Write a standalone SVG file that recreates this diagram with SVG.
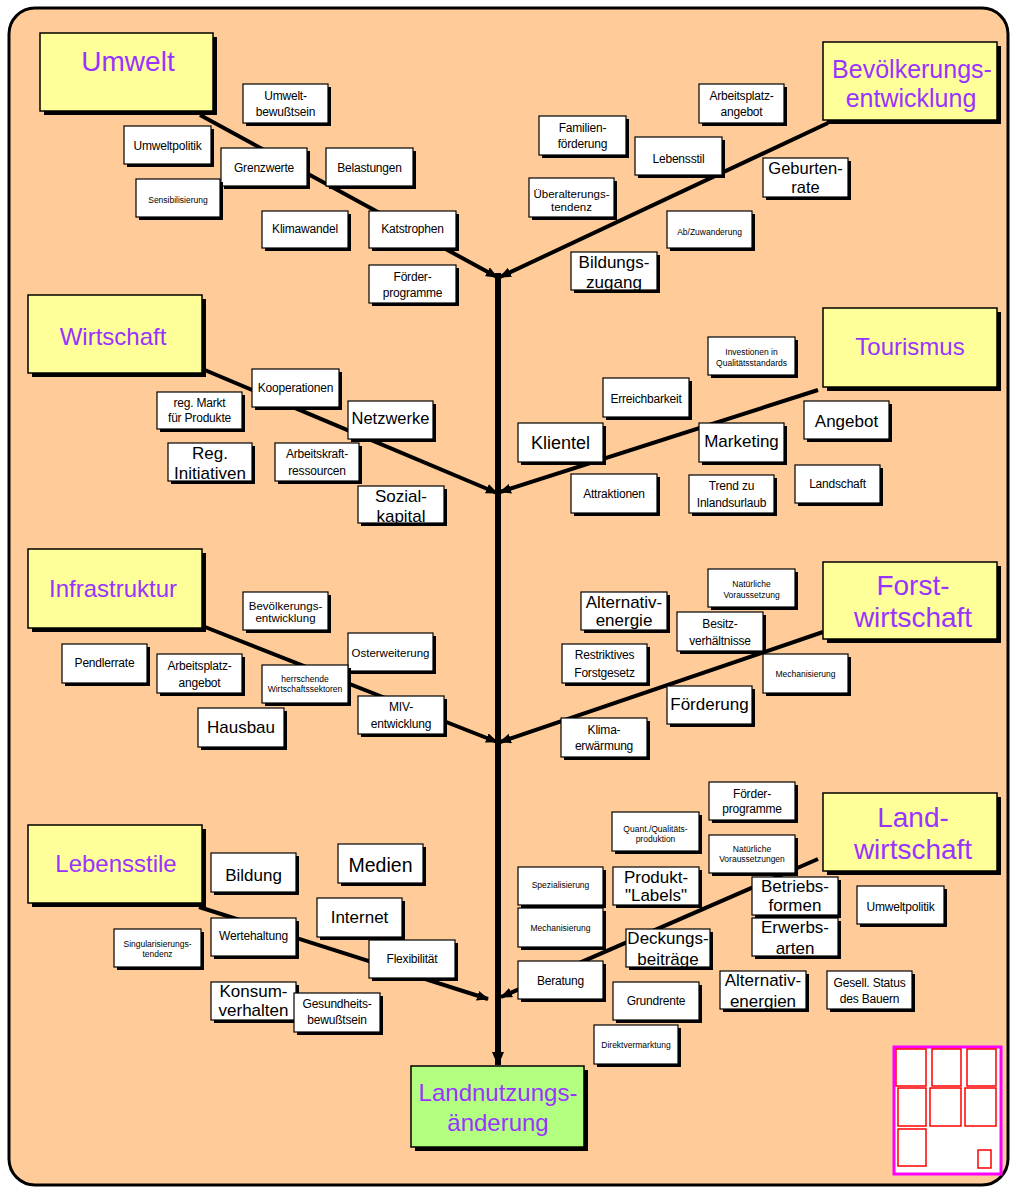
<svg xmlns="http://www.w3.org/2000/svg" width="1010" height="1187" viewBox="0 0 1010 1187">
<style>
.sh{fill:#000}
.wb{fill:#fff;stroke:#000;stroke-width:1.2}
.yb{fill:#FFFF99;stroke:#000;stroke-width:1.5}
.gb{fill:#B3FF80;stroke:#000;stroke-width:1.5}
text{font-family:"Liberation Sans",Arial,sans-serif;text-anchor:middle;fill:#000}
.s8{font-size:8.5px}
.s11{font-size:11.5px}
.s12{font-size:12px;letter-spacing:-0.2px}
.s17{font-size:17px}
.cat{fill:#9933FF}
.br{stroke:#000;stroke-width:4;fill:none}
.tr{stroke:#000;stroke-width:6;fill:none}
.rr{fill:none;stroke:#FF0000;stroke-width:1.5}
</style>
<defs>
<marker id="ah" markerUnits="userSpaceOnUse" markerWidth="12" markerHeight="10" refX="11" refY="5" orient="auto"><path d="M0,0 L12,5 L0,10 z" fill="#000"/></marker>
<marker id="ah2" markerUnits="userSpaceOnUse" markerWidth="14" markerHeight="12" refX="13" refY="6" orient="auto"><path d="M0,0 L14,6 L0,12 z" fill="#000"/></marker>
<clipPath id="c15"><rect x="571" y="252" width="86" height="38"/></clipPath>
<clipPath id="c19"><rect x="168" y="443" width="84" height="38"/></clipPath>
<clipPath id="c21"><rect x="358" y="486" width="86" height="37"/></clipPath>
<clipPath id="c38"><rect x="581" y="592" width="86" height="38"/></clipPath>
<clipPath id="c60"><rect x="752" y="918" width="86" height="38"/></clipPath>
<clipPath id="c61"><rect x="626" y="929" width="84" height="38"/></clipPath>
<clipPath id="c64"><rect x="720" y="971" width="86" height="38"/></clipPath>
</defs>
<rect x="9" y="8" width="999" height="1177" rx="26" fill="#FFCC99" stroke="#000" stroke-width="3"/>

<g id="connectors">
<line class="tr" x1="498" y1="273" x2="498" y2="1065" marker-end="url(#ah2)"/>
<line class="br" x1="200" y1="115" x2="497" y2="277" marker-end="url(#ah)"/>
<line class="br" x1="828" y1="123" x2="500" y2="277" marker-end="url(#ah)"/>
<line class="br" x1="200" y1="368" x2="497" y2="493" marker-end="url(#ah)"/>
<line class="br" x1="818" y1="390" x2="500" y2="492" marker-end="url(#ah)"/>
<line class="br" x1="205" y1="627" x2="497" y2="742" marker-end="url(#ah)"/>
<line class="br" x1="823" y1="632" x2="500" y2="742" marker-end="url(#ah)"/>
<line class="br" x1="199" y1="907" x2="488" y2="999" marker-end="url(#ah)"/>
<line class="br" x1="818" y1="859" x2="501" y2="997" marker-end="url(#ah)"/>
</g>

<g id="umwelt"><rect class="sh" x="44" y="37" width="173" height="78"/><rect class="yb" x="40" y="33" width="173" height="78"/><text class="cat" x="128" y="71" font-size="28">Umwelt</text></g>
<g id="bevoelkerung"><rect class="sh" x="827" y="46" width="174" height="78"/><rect class="yb" x="823" y="42" width="174" height="78"/><text class="cat" x="912" y="78" font-size="25">Bevölkerungs-</text><text class="cat" x="911" y="107" font-size="25">entwicklung</text></g>
<g id="wirtschaft"><rect class="sh" x="32" y="299" width="174" height="78"/><rect class="yb" x="28" y="295" width="174" height="78"/><text class="cat" x="113" y="345" font-size="24">Wirtschaft</text></g>
<g id="tourismus"><rect class="sh" x="827" y="312" width="174" height="79"/><rect class="yb" x="823" y="308" width="174" height="79"/><text class="cat" x="910" y="355" font-size="24">Tourismus</text></g>
<g id="infrastruktur"><rect class="sh" x="32" y="553" width="174" height="79"/><rect class="yb" x="28" y="549" width="174" height="79"/><text class="cat" x="113" y="597" font-size="24">Infrastruktur</text></g>
<g id="forstwirtschaft"><rect class="sh" x="827" y="566" width="174" height="77"/><rect class="yb" x="823" y="562" width="174" height="77"/><text class="cat" x="913" y="595" font-size="28">Forst-</text><text class="cat" x="913" y="627" font-size="28">wirtschaft</text></g>
<g id="lebensstile"><rect class="sh" x="32" y="829" width="174" height="78"/><rect class="yb" x="28" y="825" width="174" height="78"/><text class="cat" x="116" y="872" font-size="24">Lebensstile</text></g>
<g id="landwirtschaft"><rect class="sh" x="827" y="797" width="174" height="78"/><rect class="yb" x="823" y="793" width="174" height="78"/><text class="cat" x="913" y="827" font-size="28">Land-</text><text class="cat" x="913" y="859" font-size="28">wirtschaft</text></g>
<g id="landnutzung"><rect class="sh" x="415" y="1070" width="173" height="81"/><rect class="gb" x="411" y="1066" width="173" height="81"/><text class="cat" x="498" y="1101" font-size="24">Landnutzungs-</text><text class="cat" x="498" y="1131" font-size="24">änderung</text></g>

<g id="n1"><rect class="sh" x="246" y="87" width="85" height="39"/><rect class="wb" x="243" y="84" width="85" height="39"/><text class="s12" x="285.5" y="100">Umwelt-</text><text class="s12" x="285.5" y="116">bewußtsein</text></g>
<g id="n2"><rect class="sh" x="127" y="129" width="87" height="38"/><rect class="wb" x="124" y="126" width="87" height="38"/><text class="s12" x="167.5" y="150">Umweltpolitik</text></g>
<g id="n3"><rect class="sh" x="224" y="151" width="86" height="38"/><rect class="wb" x="221" y="148" width="86" height="38"/><text class="s12" x="264" y="172">Grenzwerte</text></g>
<g id="n4"><rect class="sh" x="329" y="151" width="87" height="38"/><rect class="wb" x="326" y="148" width="87" height="38"/><text class="s12" x="369.5" y="172">Belastungen</text></g>
<g id="n5"><rect class="sh" x="139" y="182" width="84" height="38"/><rect class="wb" x="136" y="179" width="84" height="38"/><text class="s8" x="178" y="203">Sensibilisierung</text></g>
<g id="n6"><rect class="sh" x="265" y="214" width="86" height="37"/><rect class="wb" x="262" y="211" width="86" height="37"/><text class="s12" x="305" y="233">Klimawandel</text></g>
<g id="n7"><rect class="sh" x="372" y="214" width="87" height="37"/><rect class="wb" x="369" y="211" width="87" height="37"/><text class="s12" x="412.5" y="233">Katstrophen</text></g>
<g id="n8"><rect class="sh" x="372" y="268" width="87" height="38"/><rect class="wb" x="369" y="265" width="87" height="38"/><text class="s12" x="412.5" y="281">Förder-</text><text class="s12" x="412.5" y="297">programme</text></g>

<g id="n9"><rect class="sh" x="702" y="87" width="85" height="39"/><rect class="wb" x="699" y="84" width="85" height="39"/><text class="s12" x="741.5" y="100">Arbeitsplatz-</text><text class="s12" x="741.5" y="116">angebot</text></g>
<g id="n10"><rect class="sh" x="542" y="119" width="87" height="39"/><rect class="wb" x="539" y="116" width="87" height="39"/><text class="s12" x="582.5" y="132">Familien-</text><text class="s12" x="582.5" y="148">förderung</text></g>
<g id="n11"><rect class="sh" x="638" y="140" width="87" height="38"/><rect class="wb" x="635" y="137" width="87" height="38"/><text class="s12" x="678.5" y="163">Lebensstil</text></g>
<g id="n12"><rect class="sh" x="766" y="161" width="85" height="39"/><rect class="wb" x="763" y="158" width="85" height="39"/><text x="805.5" y="174" font-size="16.5">Geburten-</text><text x="805.5" y="193" font-size="16.5">rate</text></g>
<g id="n13"><rect class="sh" x="532" y="181" width="85" height="39"/><rect class="wb" x="529" y="178" width="85" height="39"/><text class="s11" x="571.5" y="198">Überalterungs-</text><text class="s11" x="571.5" y="211">tendenz</text></g>
<g id="n14"><rect class="sh" x="670" y="214" width="85" height="37"/><rect class="wb" x="667" y="211" width="85" height="37"/><text class="s8" x="709.5" y="235">Ab/Zuwanderung</text></g>
<g id="n15"><rect class="sh" x="574" y="255" width="86" height="38"/><rect class="wb" x="571" y="252" width="86" height="38"/><g clip-path="url(#c15)"><text class="s17" x="614" y="268">Bildungs-</text><text class="s17" x="614" y="288">zugang</text></g></g>

<g id="n16"><rect class="sh" x="255" y="372" width="87" height="38"/><rect class="wb" x="252" y="369" width="87" height="38"/><text class="s12" x="295.5" y="392">Kooperationen</text></g>
<g id="n17"><rect class="sh" x="160" y="395" width="85" height="37"/><rect class="wb" x="157" y="392" width="85" height="37"/><text class="s12" x="199.5" y="407">reg. Markt</text><text class="s12" x="199.5" y="422">für Produkte</text></g>
<g id="n18"><rect class="sh" x="351" y="404" width="85" height="38"/><rect class="wb" x="348" y="401" width="85" height="38"/><text x="390.5" y="424" font-size="16.5">Netzwerke</text></g>
<g id="n19"><rect class="sh" x="171" y="446" width="84" height="38"/><rect class="wb" x="168" y="443" width="84" height="38"/><g clip-path="url(#c19)"><text class="s17" x="210" y="459">Reg.</text><text class="s17" x="210" y="479">Initiativen</text></g></g>
<g id="n20"><rect class="sh" x="278" y="446" width="84" height="38"/><rect class="wb" x="275" y="443" width="84" height="38"/><text class="s12" x="317" y="458">Arbeitskraft-</text><text class="s12" x="317" y="475">ressourcen</text></g>
<g id="n21"><rect class="sh" x="361" y="489" width="86" height="37"/><rect class="wb" x="358" y="486" width="86" height="37"/><g clip-path="url(#c21)"><text class="s17" x="401" y="502">Sozial-</text><text class="s17" x="401" y="522">kapital</text></g></g>

<g id="n22"><rect class="sh" x="711" y="340" width="87" height="38"/><rect class="wb" x="708" y="337" width="87" height="38"/><text class="s8" x="751.5" y="355">Investionen in</text><text class="s8" x="751.5" y="366">Qualitätsstandards</text></g>
<g id="n23"><rect class="sh" x="606" y="381" width="86" height="39"/><rect class="wb" x="603" y="378" width="86" height="39"/><text class="s12" x="646" y="403">Erreichbarkeit</text></g>
<g id="n24"><rect class="sh" x="521" y="426" width="85" height="39"/><rect class="wb" x="518" y="423" width="85" height="39"/><text x="560.5" y="449" font-size="18">Klientel</text></g>
<g id="n25"><rect class="sh" x="702" y="426" width="85" height="39"/><rect class="wb" x="699" y="423" width="85" height="39"/><text class="s17" x="741.5" y="447">Marketing</text></g>
<g id="n26"><rect class="sh" x="807" y="404" width="85" height="38"/><rect class="wb" x="804" y="401" width="85" height="38"/><text class="s17" x="846.5" y="427">Angebot</text></g>
<g id="n27"><rect class="sh" x="574" y="477" width="86" height="39"/><rect class="wb" x="571" y="474" width="86" height="39"/><text class="s12" x="614" y="498">Attraktionen</text></g>
<g id="n28"><rect class="sh" x="692" y="478" width="85" height="38"/><rect class="wb" x="689" y="475" width="85" height="38"/><text class="s12" x="731.5" y="490">Trend zu</text><text class="s12" x="731.5" y="507">Inlandsurlaub</text></g>
<g id="n29"><rect class="sh" x="798" y="468" width="85" height="38"/><rect class="wb" x="795" y="465" width="85" height="38"/><text class="s12" x="837.5" y="488">Landschaft</text></g>

<g id="n30"><rect class="sh" x="246" y="595" width="85" height="38"/><rect class="wb" x="243" y="592" width="85" height="38"/><text class="s11" x="285.5" y="610">Bevölkerungs-</text><text class="s11" x="285.5" y="622">entwicklung</text></g>
<g id="n31"><rect class="sh" x="65" y="647" width="85" height="39"/><rect class="wb" x="62" y="644" width="85" height="39"/><text class="s12" x="104.5" y="667">Pendlerrate</text></g>
<g id="n32"><rect class="sh" x="160" y="657" width="85" height="39"/><rect class="wb" x="157" y="654" width="85" height="39"/><text class="s12" x="199.5" y="670">Arbeitsplatz-</text><text class="s12" x="199.5" y="687">angebot</text></g>
<g id="n33"><rect class="sh" x="351" y="636" width="85" height="38"/><rect class="wb" x="348" y="633" width="85" height="38"/><text class="s11" x="390.5" y="657">Osterweiterung</text></g>
<g id="n34"><rect class="sh" x="265" y="668" width="86" height="38"/><rect class="wb" x="262" y="665" width="86" height="38"/><text class="s8" x="305" y="682">herrschende</text><text class="s8" x="305" y="692">Wirtschaftssektoren</text></g>
<g id="n35"><rect class="sh" x="361" y="699" width="86" height="38"/><rect class="wb" x="358" y="696" width="86" height="38"/><text class="s12" x="401" y="711">MIV-</text><text class="s12" x="401" y="728">entwicklung</text></g>
<g id="n36"><rect class="sh" x="201" y="711" width="86" height="39"/><rect class="wb" x="198" y="708" width="86" height="39"/><text class="s17" x="241" y="733">Hausbau</text></g>

<g id="n37"><rect class="sh" x="711" y="572" width="87" height="38"/><rect class="wb" x="708" y="569" width="87" height="38"/><text class="s8" x="751.5" y="587">Natürliche</text><text class="s8" x="751.5" y="598">Voraussetzung</text></g>
<g id="n38"><rect class="sh" x="584" y="595" width="86" height="38"/><rect class="wb" x="581" y="592" width="86" height="38"/><g clip-path="url(#c38)"><text class="s17" x="624" y="608">Alternativ-</text><text class="s17" x="624" y="626">energie</text></g></g>
<g id="n39"><rect class="sh" x="680" y="615" width="86" height="39"/><rect class="wb" x="677" y="612" width="86" height="39"/><text class="s12" x="720" y="628">Besitz-</text><text class="s12" x="720" y="645">verhältnisse</text></g>
<g id="n40"><rect class="sh" x="565" y="647" width="85" height="39"/><rect class="wb" x="562" y="644" width="85" height="39"/><text class="s12" x="604.5" y="659">Restriktives</text><text class="s12" x="604.5" y="677">Forstgesetz</text></g>
<g id="n41"><rect class="sh" x="766" y="657" width="85" height="39"/><rect class="wb" x="763" y="654" width="85" height="39"/><text class="s8" x="805.5" y="677">Mechanisierung</text></g>
<g id="n42"><rect class="sh" x="670" y="689" width="85" height="38"/><rect class="wb" x="667" y="686" width="85" height="38"/><text class="s17" x="709.5" y="710">Förderung</text></g>
<g id="n43"><rect class="sh" x="564" y="721" width="86" height="39"/><rect class="wb" x="561" y="718" width="86" height="39"/><text class="s12" x="604" y="734">Klima-</text><text class="s12" x="604" y="750">erwärmung</text></g>

<g id="n44"><rect class="sh" x="214" y="856" width="85" height="39"/><rect class="wb" x="211" y="853" width="85" height="39"/><text class="s17" x="253.5" y="881">Bildung</text></g>
<g id="n45"><rect class="sh" x="341" y="847" width="85" height="39"/><rect class="wb" x="338" y="844" width="85" height="39"/><text x="380.5" y="872" font-size="19.5">Medien</text></g>
<g id="n46"><rect class="sh" x="320" y="901" width="85" height="39"/><rect class="wb" x="317" y="898" width="85" height="39"/><text class="s17" x="359.5" y="923">Internet</text></g>
<g id="n47"><rect class="sh" x="117" y="932" width="87" height="38"/><rect class="wb" x="114" y="929" width="87" height="38"/><text class="s8" x="157.5" y="947">Singularisierungs-</text><text class="s8" x="157.5" y="957">tendenz</text></g>
<g id="n48"><rect class="sh" x="214" y="921" width="85" height="38"/><rect class="wb" x="211" y="918" width="85" height="38"/><text class="s12" x="253.5" y="940">Wertehaltung</text></g>
<g id="n49"><rect class="sh" x="372" y="943" width="86" height="38"/><rect class="wb" x="369" y="940" width="86" height="38"/><text class="s12" x="412" y="963">Flexibilität</text></g>
<g id="n50"><rect class="sh" x="214" y="985" width="85" height="38"/><rect class="wb" x="211" y="982" width="85" height="38"/><text class="s17" x="253.5" y="997">Konsum-</text><text class="s17" x="253.5" y="1016">verhalten</text></g>
<g id="n51"><rect class="sh" x="297" y="996" width="86" height="39"/><rect class="wb" x="294" y="993" width="86" height="39"/><text class="s12" x="337" y="1008">Gesundheits-</text><text class="s12" x="337" y="1024">bewußtsein</text></g>

<g id="n52"><rect class="sh" x="712" y="785" width="86" height="38"/><rect class="wb" x="709" y="782" width="86" height="38"/><text class="s12" x="752" y="798">Förder-</text><text class="s12" x="752" y="813">programme</text></g>
<g id="n53"><rect class="sh" x="615" y="815" width="87" height="39"/><rect class="wb" x="612" y="812" width="87" height="39"/><text class="s8" x="655.5" y="832">Quant./Qualitäts-</text><text class="s8" x="655.5" y="842">produktion</text></g>
<g id="n54"><rect class="sh" x="712" y="838" width="86" height="38"/><rect class="wb" x="709" y="835" width="86" height="38"/><text class="s8" x="752" y="852">Natürliche</text><text class="s8" x="752" y="862">Voraussetzungen</text></g>
<g id="n55"><rect class="sh" x="521" y="870" width="85" height="38"/><rect class="wb" x="518" y="867" width="85" height="38"/><text class="s8" x="560.5" y="888">Spezialisierung</text></g>
<g id="n56"><rect class="sh" x="616" y="870" width="86" height="38"/><rect class="wb" x="613" y="867" width="86" height="38"/><text class="s17" x="656" y="883">Produkt-</text><text class="s17" x="656" y="901">"Labels"</text></g>
<g id="n57"><rect class="sh" x="755" y="880" width="86" height="38"/><rect class="wb" x="752" y="877" width="86" height="38"/><text class="s17" x="795" y="892">Betriebs-</text><text class="s17" x="795" y="911">formen</text></g>
<g id="n58"><rect class="sh" x="860" y="889" width="87" height="38"/><rect class="wb" x="857" y="886" width="87" height="38"/><text class="s12" x="900.5" y="911">Umweltpolitik</text></g>
<g id="n59"><rect class="sh" x="521" y="911" width="85" height="39"/><rect class="wb" x="518" y="908" width="85" height="39"/><text class="s8" x="560.5" y="931">Mechanisierung</text></g>
<g id="n60"><rect class="sh" x="755" y="921" width="86" height="38"/><rect class="wb" x="752" y="918" width="86" height="38"/><g clip-path="url(#c60)"><text class="s17" x="795" y="933">Erwerbs-</text><text class="s17" x="795" y="954">arten</text></g></g>
<g id="n61"><rect class="sh" x="629" y="932" width="84" height="38"/><rect class="wb" x="626" y="929" width="84" height="38"/><g clip-path="url(#c61)"><text class="s17" x="668" y="944">Deckungs-</text><text class="s17" x="668" y="965">beiträge</text></g></g>
<g id="n62"><rect class="sh" x="521" y="964" width="85" height="38"/><rect class="wb" x="518" y="961" width="85" height="38"/><text class="s12" x="560.5" y="985">Beratung</text></g>
<g id="n63"><rect class="sh" x="616" y="985" width="86" height="38"/><rect class="wb" x="613" y="982" width="86" height="38"/><text class="s12" x="656" y="1005">Grundrente</text></g>
<g id="n64"><rect class="sh" x="723" y="974" width="86" height="38"/><rect class="wb" x="720" y="971" width="86" height="38"/><g clip-path="url(#c64)"><text class="s17" x="763" y="986">Alternativ-</text><text class="s17" x="763" y="1007">energien</text></g></g>
<g id="n65"><rect class="sh" x="830" y="974" width="85" height="38"/><rect class="wb" x="827" y="971" width="85" height="38"/><text class="s12" x="869.5" y="987">Gesell. Status</text><text class="s12" x="869.5" y="1003">des Bauern</text></g>
<g id="n66"><rect class="sh" x="597" y="1028" width="84" height="39"/><rect class="wb" x="594" y="1025" width="84" height="39"/><text class="s8" x="636" y="1048">Direktvermarktung</text></g>

<g id="legend">
<rect x="894" y="1047" width="107" height="127" fill="#fff" stroke="#FF00FF" stroke-width="3"/>
<rect class="rr" x="896" y="1049" width="30" height="37"/>
<rect class="rr" x="932" y="1049" width="29" height="37"/>
<rect class="rr" x="967" y="1049" width="29" height="37"/>
<rect class="rr" x="898" y="1088" width="28" height="38"/>
<rect class="rr" x="930" y="1088" width="31" height="38"/>
<rect class="rr" x="965" y="1088" width="31" height="38"/>
<rect class="rr" x="898" y="1129" width="28" height="37"/>
<rect class="rr" x="978" y="1150" width="13" height="18"/>
</g>
</svg>
